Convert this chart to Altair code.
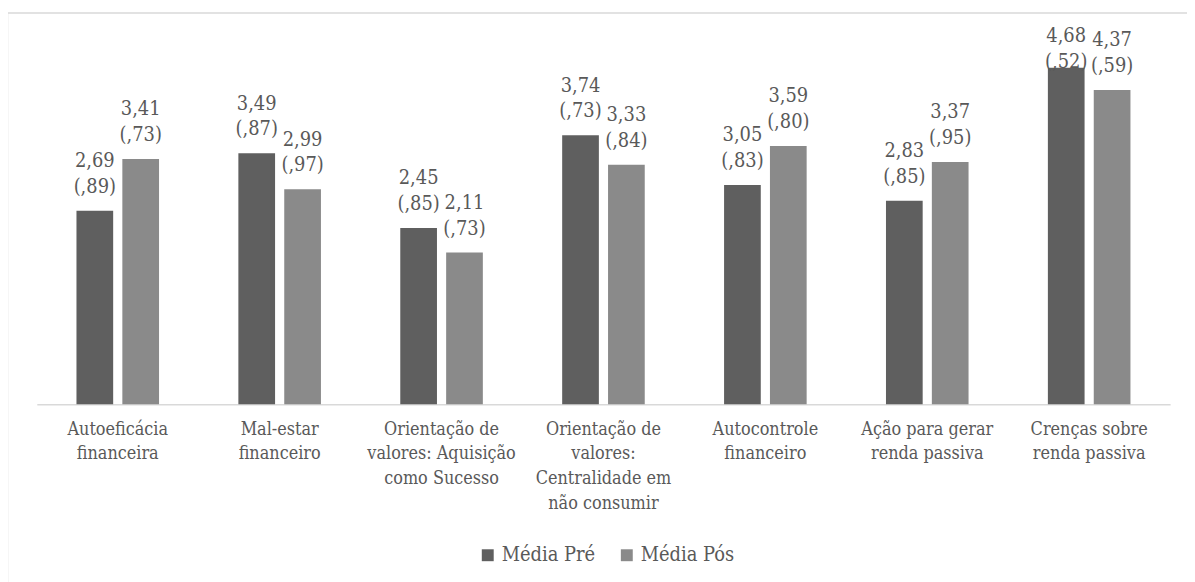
import altair as alt
import pandas as pd

categories = [
    "Autoeficácia\nfinanceira",
    "Mal-estar\nfinanceiro",
    "Orientação de\nvalores: Aquisição\ncomo Sucesso",
    "Orientação de\nvalores:\nCentralidade em\nnão consumir",
    "Autocontrole\nfinanceiro",
    "Ação para gerar\nrenda passiva",
    "Crenças sobre\nrenda passiva",
]
series = ["Média Pré", "Média Pós"]
pre_mean = [2.69, 3.49, 2.45, 3.74, 3.05, 2.83, 4.68]
pre_sd = [0.89, 0.87, 0.85, 0.73, 0.83, 0.85, 0.52]
pos_mean = [3.41, 2.99, 2.11, 3.33, 3.59, 3.37, 4.37]
pos_sd = [0.73, 0.97, 0.73, 0.84, 0.80, 0.95, 0.59]
colors = ["#5f5f5f", "#8a8a8a"]

FONT = "DejaVu Serif Condensed"
TEXT = "#595959"


def fmt(m, s):
    return f"{m:.2f}".replace(".", ",") + "\n(" + f"{s:.2f}"[1:].replace(".", ",") + ")"


rows = []
for name, means, sds in [(series[0], pre_mean, pre_sd), (series[1], pos_mean, pos_sd)]:
    for c, m, s in zip(categories, means, sds):
        rows.append({"categoria": c, "serie": name, "media": m, "label": fmt(m, s)})
df = pd.DataFrame(rows)

base = alt.Chart(df).encode(
    x=alt.X(
        "categoria:N",
        sort=categories,
        scale=alt.Scale(paddingInner=0.49, paddingOuter=0.245),
        axis=alt.Axis(
            title=None,
            labelAngle=0,
            ticks=False,
            domainColor="#d9d9d9",
            domainWidth=1.5,
            labelExpr="split(datum.label, '\\n')",
            labelFontSize=18,
            labelLineHeight=25,
            labelPadding=16,
            labelColor=TEXT,
            labelFont=FONT,
            labelLimit=0,
        ),
    ),
    xOffset=alt.XOffset("serie:N", sort=series, scale=alt.Scale(paddingInner=0.2, paddingOuter=0)),
)

bars = base.mark_bar().encode(
    y=alt.Y("media:Q", scale=alt.Scale(domain=[0, 5]), axis=None),
    color=alt.Color(
        "serie:N",
        sort=series,
        scale=alt.Scale(domain=series, range=colors),
        legend=alt.Legend(
            title=None,
            orient="none",
            legendX=444,
            legendY=504,
            direction="horizontal",
            columns=2,
            symbolType="square",
            symbolSize=144,
            symbolStrokeWidth=0,
            labelFontSize=20,
            labelFont=FONT,
            labelColor=TEXT,
            labelOffset=4,
            columnPadding=21,
        ),
    ),
)

labels = base.mark_text(
    lineBreak="\n",
    baseline="alphabetic",
    dy=-44,
    fontSize=20,
    font=FONT,
    color=TEXT,
    lineHeight=26,
).encode(
    y=alt.Y("pos:Q", scale=alt.Scale(domain=[0, 5])),
    text="label:N",
).transform_calculate(pos="min(datum.media, 4.43)")

frame = alt.Chart(alt.Data(values=[{"a": 1}])).mark_rect(
    fillOpacity=0, stroke="#d9d9d9", strokeWidth=1.5
).encode(
    x=alt.value(-29.5), x2=alt.value(1400), y=alt.value(-32), y2=alt.value(800)
)

chart = alt.layer(frame, bars, labels).properties(
    width=1141,
    height=362,
    padding={"left": 29, "top": 35, "right": 17, "bottom": 177},
    autosize=alt.AutoSizeParams(type="none"),
).configure_view(strokeWidth=0)

chart.save("out.html", embed_options={"renderer": "svg", "actions": False})
